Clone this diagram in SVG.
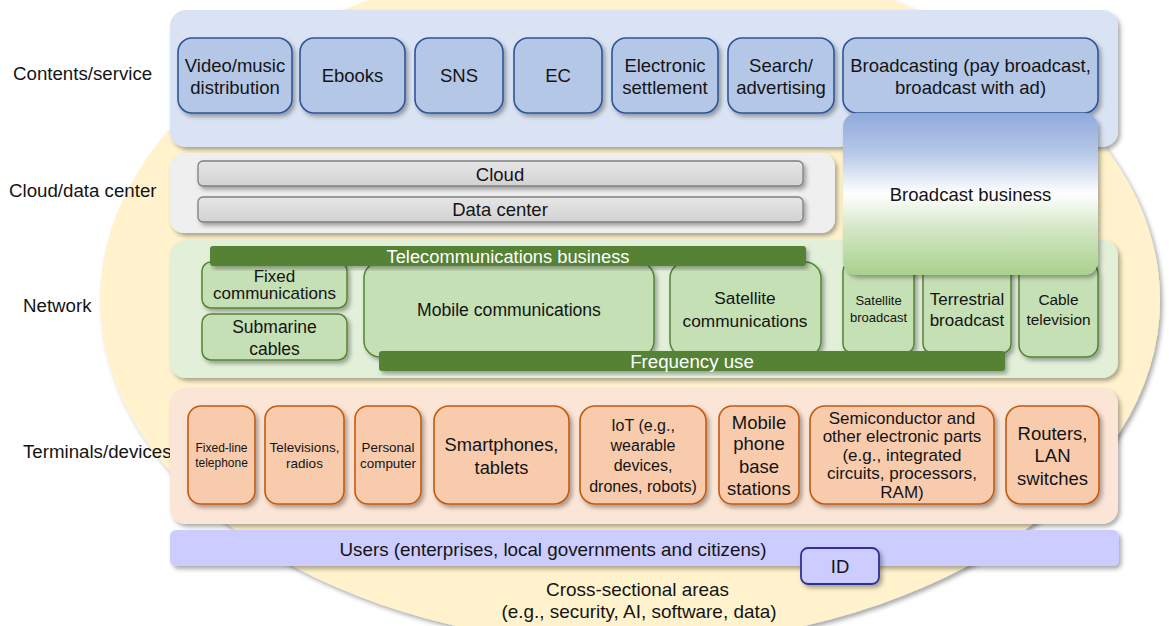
<svg xmlns="http://www.w3.org/2000/svg" width="1169" height="626" viewBox="0 0 1169 626">
<defs>
<filter id="sh" x="-10%" y="-10%" width="125%" height="135%">
<feDropShadow dx="2.5" dy="3" stdDeviation="2" flood-color="#000" flood-opacity="0.33"/>
</filter>
<linearGradient id="bb" x1="0" y1="0" x2="0" y2="1">
<stop offset="0" stop-color="#8FAADC"/>
<stop offset="0.25" stop-color="#B7C8E8"/>
<stop offset="0.5" stop-color="#FFFFFF"/>
<stop offset="0.72" stop-color="#D3E6C4"/>
<stop offset="1" stop-color="#A9D18E"/>
</linearGradient>
<linearGradient id="gr" x1="0" y1="0" x2="0" y2="1">
<stop offset="0" stop-color="#E6E6E6"/>
<stop offset="1" stop-color="#D2D2D2"/>
</linearGradient>
</defs>
<style>
text{font-family:"Liberation Sans",Arial,sans-serif;fill:#141414;text-anchor:middle;}
.lbl{font-size:18.7px;text-anchor:start;}
.t{font-size:18.5px;}
.w{fill:#FFFFFF;font-size:18.3px;}
.cbox{fill:#B4C7E7;stroke:#2F5597;stroke-width:1.6;filter:url(#sh);}
.gbox{fill:#C5E0B4;stroke:#548235;stroke-width:1.5;filter:url(#sh);}
.obox{fill:#F8CBAD;stroke:#C55A11;stroke-width:1.6;filter:url(#sh);}
.bar{fill:#548235;filter:url(#sh);}
.gray{fill:url(#gr);stroke:#7F7F7F;stroke-width:1.3;filter:url(#sh);}
.panel{filter:url(#sh);}
</style>
<rect width="1169" height="626" fill="#FFFFFF"/>
<g id="cross-sectional">
<ellipse cx="630" cy="300" rx="530" ry="345" fill="#FFF2CC" filter="url(#sh)"/>
</g>
<g id="labels">
<text class="lbl" x="13" y="79.7">Contents/service</text>
<text class="lbl" x="9" y="196.7">Cloud/data center</text>
<text class="lbl" x="23" y="311.7">Network</text>
<text class="lbl" x="23" y="457.7">Terminals/devices</text>
</g>
<g id="contents-layer">
<rect class="panel" x="170" y="10" width="948" height="137" rx="16" fill="#DAE3F3"/>
</g>
<g id="video-music">
<rect class="cbox" x="178" y="38" width="114" height="75" rx="14"/>
<text class="t" x="235" y="71.5">Video/music</text>
<text class="t" x="235" y="93.5">distribution</text>
</g>
<g id="ebooks">
<rect class="cbox" x="300" y="38" width="105" height="75" rx="14"/>
<text class="t" x="352.5" y="81.5">Ebooks</text>
</g>
<g id="sns">
<rect class="cbox" x="415" y="38" width="88" height="75" rx="14"/>
<text class="t" x="459" y="81.5">SNS</text>
</g>
<g id="ec">
<rect class="cbox" x="514" y="38" width="88" height="75" rx="14"/>
<text class="t" x="558" y="81.5">EC</text>
</g>
<g id="electronic-settlement">
<rect class="cbox" x="612" y="38" width="106" height="75" rx="14"/>
<text class="t" x="665" y="71.5">Electronic</text>
<text class="t" x="665" y="93.5">settlement</text>
</g>
<g id="search-advertising">
<rect class="cbox" x="728" y="38" width="106" height="75" rx="14"/>
<text class="t" x="781" y="71.5">Search/</text>
<text class="t" x="781" y="93.5">advertising</text>
</g>
<g id="broadcasting">
<rect class="cbox" x="843" y="38" width="255" height="75" rx="14"/>
<text class="t" x="970.5" y="71.5">Broadcasting (pay broadcast,</text>
<text class="t" x="970.5" y="93.5">broadcast with ad)</text>
</g>
<g id="cloud-layer">
<rect class="panel" x="170" y="153" width="665" height="80" rx="14" fill="#EFEFEF"/>
</g>
<g id="cloud">
<rect class="gray" x="198" y="161" width="605" height="25" rx="5"/>
<text class="t" x="500" y="180.5">Cloud</text>
</g>
<g id="data-center">
<rect class="gray" x="198" y="197" width="605" height="25" rx="5"/>
<text class="t" x="500" y="215.5">Data center</text>
</g>
<g id="network-layer">
<rect class="panel" x="170" y="240" width="948" height="138" rx="16" fill="#E2F0D9"/>
</g>
<g id="fixed-communications">
<rect class="gbox" x="202" y="262" width="145" height="46" rx="9"/>
<text x="274.5" y="282" style="font-size:17px">Fixed</text>
<text x="274.5" y="299" style="font-size:17px">communications</text>
</g>
<g id="submarine-cables">
<rect class="gbox" x="202" y="314" width="145" height="46" rx="9"/>
<text x="274.5" y="333.3" style="font-size:17.5px">Submarine</text>
<text x="274.5" y="355.3" style="font-size:17.5px">cables</text>
</g>
<g id="mobile-communications">
<rect class="gbox" x="364" y="262" width="290" height="95" rx="16"/>
<text x="509" y="316.3" style="font-size:17.6px">Mobile communications</text>
</g>
<g id="satellite-communications">
<rect class="gbox" x="670" y="262" width="151" height="95" rx="16"/>
<text x="745" y="304.2" style="font-size:17.3px">Satellite</text>
<text x="745" y="327.2" style="font-size:17.3px">communications</text>
</g>
<g id="satellite-broadcast">
<rect class="gbox" x="843" y="262" width="71" height="91" rx="9"/>
<text x="878.5" y="304.5" style="font-size:13px">Satellite</text>
<text x="878.5" y="321.5" style="font-size:13px">broadcast</text>
</g>
<g id="terrestrial-broadcast">
<rect class="gbox" x="923" y="262" width="88" height="91" rx="9"/>
<text x="967" y="304.6" style="font-size:17px">Terrestrial</text>
<text x="967" y="326.1" style="font-size:17px">broadcast</text>
</g>
<g id="cable-television">
<rect class="gbox" x="1019" y="262" width="79" height="95" rx="12"/>
<text x="1058.5" y="304.5" style="font-size:15.4px">Cable</text>
<text x="1058.5" y="324.5" style="font-size:15.4px">television</text>
</g>
<g id="telecommunications-business">
<rect class="bar" x="210" y="246" width="596" height="20" rx="3"/>
<text class="w" x="508" y="262.5">Telecommunications business</text>
</g>
<g id="frequency-use">
<rect class="bar" x="379" y="351" width="626" height="20" rx="3"/>
<text class="w" x="692" y="367.6" style="font-size:18.7px">Frequency use</text>
</g>
<g id="broadcast-business">
<rect x="843" y="113" width="255" height="162" rx="14" fill="url(#bb)" filter="url(#sh)"/>
<text class="t" x="970.5" y="200.7">Broadcast business</text>
</g>
<g id="terminals-layer">
<rect class="panel" x="170" y="388" width="948" height="136" rx="16" fill="#FBE5D6"/>
</g>
<g id="fixed-line-telephone">
<rect class="obox" x="188" y="406" width="67" height="98" rx="13"/>
<text x="221.5" y="452.2" style="font-size:12px">Fixed-line</text>
<text x="221.5" y="467.2" style="font-size:12px">telephone</text>
</g>
<g id="televisions-radios">
<rect class="obox" x="265" y="406" width="79" height="98" rx="13"/>
<text x="304.5" y="451.8" style="font-size:13.5px">Televisions,</text>
<text x="304.5" y="468.3" style="font-size:13.5px">radios</text>
</g>
<g id="personal-computer">
<rect class="obox" x="355" y="406" width="66" height="98" rx="13"/>
<text x="388" y="451.8" style="font-size:13.4px">Personal</text>
<text x="388" y="467.8" style="font-size:13.4px">computer</text>
</g>
<g id="smartphones-tablets">
<rect class="obox" x="434" y="406" width="135" height="98" rx="15"/>
<text x="501.5" y="450.6" style="font-size:18.3px">Smartphones,</text>
<text x="501.5" y="473.6" style="font-size:18.3px">tablets</text>
</g>
<g id="iot">
<rect class="obox" x="580" y="406" width="126" height="98" rx="15"/>
<text x="643" y="430.8" style="font-size:16px">IoT (e.g.,</text>
<text x="643" y="450.8" style="font-size:16px">wearable</text>
<text x="643" y="470.8" style="font-size:16px">devices,</text>
<text x="643" y="491.8" style="font-size:16px">drones, robots)</text>
</g>
<g id="mobile-phone-base-stations">
<rect class="obox" x="719" y="406" width="80" height="98" rx="13"/>
<text class="t" x="759" y="428.7">Mobile</text>
<text class="t" x="759" y="450.2">phone</text>
<text class="t" x="759" y="473.2">base</text>
<text class="t" x="759" y="494.7">stations</text>
</g>
<g id="semiconductor">
<rect class="obox" x="810" y="406" width="184" height="98" rx="15"/>
<text x="902" y="424.1" style="font-size:17px">Semiconductor and</text>
<text x="902" y="442.1" style="font-size:17px">other electronic parts</text>
<text x="902" y="461.1" style="font-size:17px">(e.g., integrated</text>
<text x="902" y="479.1" style="font-size:17px">circuits, processors,</text>
<text x="902" y="498.1" style="font-size:17px">RAM)</text>
</g>
<g id="routers-lan-switches">
<rect class="obox" x="1006" y="406" width="93" height="98" rx="15"/>
<text class="t" x="1052.5" y="439.7">Routers,</text>
<text class="t" x="1052.5" y="462.2">LAN</text>
<text class="t" x="1052.5" y="484.7">switches</text>
</g>
<g id="users">
<rect x="170" y="530" width="949" height="36" rx="6" fill="#CCCCFF" filter="url(#sh)"/>
<text class="t" x="553" y="555.7" textLength="427" lengthAdjust="spacingAndGlyphs">Users (enterprises, local governments and citizens)</text>
</g>
<g id="id">
<rect x="801" y="548" width="78" height="36" rx="7" fill="#CCCCFF" stroke="#2E3192" stroke-width="1.8" filter="url(#sh)"/>
<text class="t" x="840" y="572.7">ID</text>
</g>
<g id="cross-sectional-text">
<text class="t" x="637.5" y="595.7" textLength="183" lengthAdjust="spacingAndGlyphs">Cross-sectional areas</text>
<text class="t" x="639" y="617.7" textLength="275" lengthAdjust="spacingAndGlyphs">(e.g., security, AI, software, data)</text>
</g>
</svg>
